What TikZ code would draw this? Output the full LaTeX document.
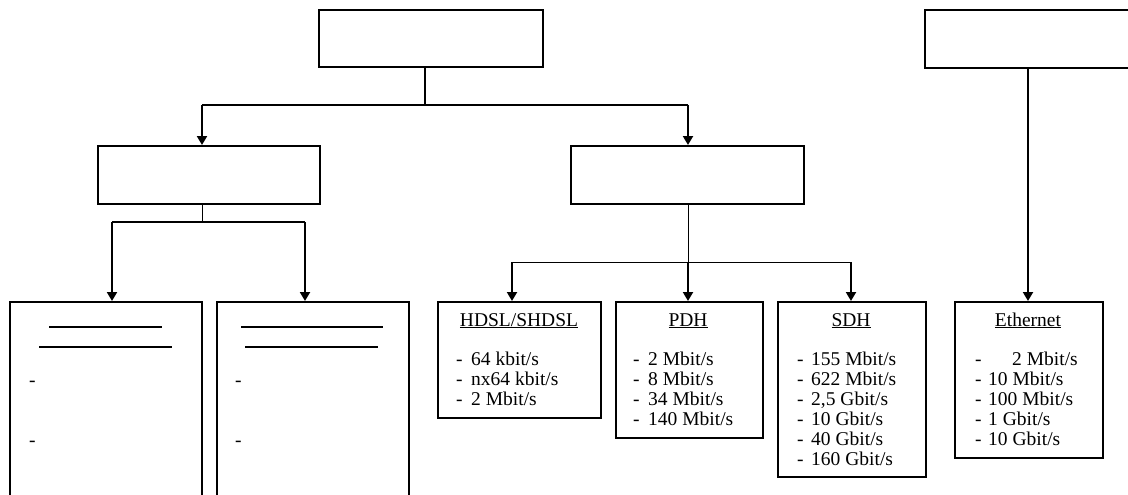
\documentclass[tikz,border=0pt]{standalone}
\usepackage{fontspec}
\setmainfont{Liberation Serif}
\usetikzlibrary{arrows.meta}
\begin{document}
\begin{tikzpicture}[x=1pt,y=-1pt,
  box/.style={draw,line width=2pt,inner sep=0pt,anchor=north west},
  txt/.style={inner sep=0pt,font=\fontsize{19.5}{20}\selectfont},
  tip/.style={-{Triangle[width=10pt,length=9pt]}},
  bold/.style={line width=2pt},
  thin/.style={line width=1pt},
  uline/.style={line width=1.3pt},
]
\clip (0,0) rectangle (1128,495);
\useasboundingbox (0,0) rectangle (1128,495);
% boxes
\node[box,minimum width=224pt,minimum height=57pt] (top) at (318,9) {};
\node[box,minimum width=224pt,minimum height=58pt] (topR) at (924,9) {};
\node[box,minimum width=222pt,minimum height=58pt] (midL) at (97,145) {};
\node[box,minimum width=233pt,minimum height=58pt] (midR) at (570,145) {};
\node[box,minimum width=192pt,minimum height=200pt] (bl1) at (9,301) {};
\node[box,minimum width=192pt,minimum height=200pt] (bl2) at (216,301) {};
\node[box,minimum width=163pt,minimum height=116pt] (hdsl) at (437,301) {};
\node[box,minimum width=147pt,minimum height=136pt] (pdh) at (615,301) {};
\node[box,minimum width=148pt,minimum height=175pt] (sdh) at (777,301) {};
\node[box,minimum width=148pt,minimum height=156pt] (eth) at (954,301) {};
% junctions
\coordinate (j1) at (425,105);
\coordinate (j1a) at (202,105);
\coordinate (j1b) at (688,105);
\coordinate (j2) at (202,222);
\coordinate (j2a) at (112,222);
\coordinate (j2b) at (305,222);
\coordinate (j3) at (688,262);
\coordinate (j3a) at (512,262);
\coordinate (j3c) at (851,262);
\coordinate (j4) at (1028,200);
% connectors
\draw[line width=1.3pt] (j1 |- top.south) -- (j1);
\draw[bold] (j1a) -- (j1b);
\draw[bold,tip] (j1a) -- (j1a |- midL.north);
\draw[bold,tip] (j1b) -- (j1b |- midR.north);
\draw[thin] (j2 |- midL.south) -- (j2);
\draw[bold] (j2a) -- (j2b);
\draw[bold,tip] (j2a) -- (j2a |- bl1.north);
\draw[bold,tip] (j2b) -- (j2b |- bl2.north);
\draw[line width=0.8pt] (j3 |- midR.south) -- (j3);
\draw[thin] (j3a) -- (j3c);
\draw[bold,tip] (j3a) -- (j3a |- hdsl.north);
\draw[bold,tip] (j3) -- (j3 |- pdh.north);
\draw[bold,tip] (j3c) -- (j3c |- sdh.north);
\draw[bold,tip] (j4 |- topR.south) -- (j4 |- eth.north);
% blank underlines and dashes in left boxes
\draw[uline] (49,327) -- (162,327);
\draw[uline] (39,347) -- (172,347);
\draw[uline] (241,327) -- (383,327);
\draw[uline] (245,347) -- (378,347);
\node[txt,anchor=base west] (d11) at (29,386) {-};
\node[txt,anchor=base west] (d12) at (29,446) {-};
\node[txt,anchor=base west] (d21) at (235,386) {-};
\node[txt,anchor=base west] (d22) at (235,446) {-};
% titles
\node[txt,anchor=base] (th) at (519,326) {\underline{HDSL/SHDSL}};
\node[txt,anchor=base] (tp) at (688,326) {\underline{PDH}};
\node[txt,anchor=base] (ts) at (851,326) {\underline{SDH}};
\node[txt,anchor=base] (te) at (1028,326) {\underline{Ethernet}};
% lists
\foreach \t [count=\i] in {64 kbit/s, nx64 kbit/s, 2 Mbit/s}{
  \node[txt,anchor=base west] (hd\i) at (456,345+20*\i) {-};
  \node[txt,anchor=base west] (h\i) at (471,345+20*\i) {\t};
}
\foreach \t [count=\i] in {2 Mbit/s, 8 Mbit/s, 34 Mbit/s, 140 Mbit/s}{
  \node[txt,anchor=base west] (pd\i) at (633,345+20*\i) {-};
  \node[txt,anchor=base west] (p\i) at (648,345+20*\i) {\t};
}
\foreach \t [count=\i] in {155 Mbit/s, 622 Mbit/s, {2,5 Gbit/s}, 10 Gbit/s, 40 Gbit/s, 160 Gbit/s}{
  \node[txt,anchor=base west] (sd\i) at (797,345+20*\i) {-};
  \node[txt,anchor=base west] (s\i) at (811,345+20*\i) {\t};
}
\node[txt,anchor=base west] (ed1) at (975,365) {-};
\node[txt,anchor=base west] (e1) at (1012,365) {2 Mbit/s};
\foreach \t [count=\i from 2] in {10 Mbit/s, 100 Mbit/s, 1 Gbit/s, 10 Gbit/s}{
  \node[txt,anchor=base west] (ed\i) at (975,345+20*\i) {-};
  \node[txt,anchor=base west] (e\i) at (988,345+20*\i) {\t};
}
\end{tikzpicture}
\end{document}
